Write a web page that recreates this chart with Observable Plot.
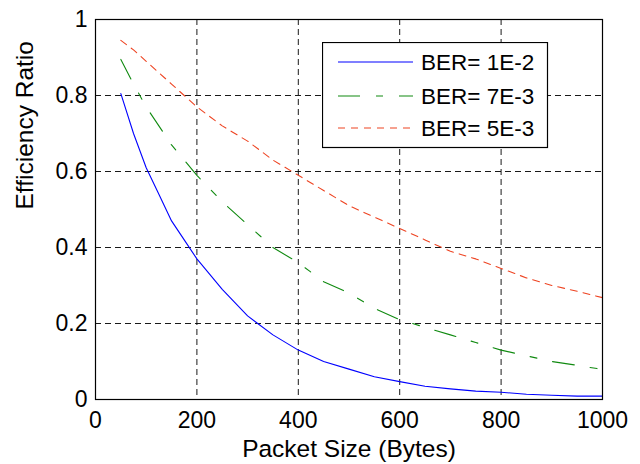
<!DOCTYPE html>
<html>
<head>
<meta charset="utf-8">
<script src="https://cdn.jsdelivr.net/npm/d3@7"></script>
<script src="https://cdn.jsdelivr.net/npm/@observablehq/plot@0.6"></script>
<style>
  html, body { margin: 0; padding: 0; background: #fff; }
  #wrap { position: relative; width: 640px; height: 464px; font-family: "Liberation Sans", Arial, sans-serif; }
  #legend { position: absolute; left: 322px; top: 42px; }
</style>
</head>
<body>
<div id="wrap"></div>
<script>
const sizes = [50,75,100,125,150,175,200,250,300,350,400,450,500,550,600,650,700,750,800,850,900,950,1000];
const ber1e2 = [0.805,0.70,0.61,0.54,0.47,0.42,0.37,0.29,0.22,0.17,0.13,0.10,0.08,0.06,0.047,0.035,0.028,0.022,0.019,0.014,0.011,0.009,0.009];
const ber7e3 = [0.895,0.83,0.77,0.72,0.67,0.63,0.59,0.52,0.46,0.40,0.36,0.31,0.28,0.24,0.21,0.19,0.17,0.15,0.13,0.115,0.10,0.09,0.079];
const ber5e3 = [0.945,0.92,0.89,0.86,0.83,0.80,0.77,0.72,0.68,0.63,0.59,0.55,0.51,0.48,0.45,0.42,0.39,0.37,0.345,0.32,0.30,0.285,0.268];
const seriesNames = ["BER= 1E-2", "BER= 7E-3", "BER= 5E-3"];
const xTicks = [0,200,400,600,800,1000];
const yTicks = [0,0.2,0.4,0.6,0.8,1];
const xLabel = "Packet Size (Bytes)";
const yLabel = "Efficiency Ratio";

const colors = ["#0000ff", "#108a10", "#ee4422"];
const dashes = [null, "22,16,7,16", "7,6"];

const seriesValues = [ber1e2, ber7e3, ber5e3];
const series = seriesNames.map((name, i) => sizes.map((s, j) => ({size: s, eff: seriesValues[i][j], name})));

const tickFont = 23;
const labelFont = 24.5;
const legendFont = 22.5;
const yFmt = d => String(+d.toFixed(1));
const xFmt = d => String(d);

const lineMarks = series.map((data, i) => Plot.line(data, {
  x: "size", y: "eff", stroke: colors[i], strokeWidth: 1.1,
  strokeDasharray: dashes[i] || undefined
}));

const chart = Plot.plot({
  width: 640,
  height: 464,
  marginLeft: 95,
  marginRight: 38,
  marginTop: 19,
  marginBottom: 65,
  style: { fontFamily: "Liberation Sans, Arial, sans-serif", fontSize: tickFont + "px", color: "#000", background: "#fff" },
  x: { domain: [0, 1000] },
  y: { domain: [0, 1] },
  marks: [
    Plot.gridX(xTicks.slice(1, -1), { stroke: "#000", strokeOpacity: 0.9, strokeDasharray: "6,4", strokeWidth: 1 }),
    Plot.gridY(yTicks.slice(1, -1), { stroke: "#000", strokeOpacity: 0.9, strokeDasharray: "6,4", strokeWidth: 1 }),
    ...lineMarks,
    Plot.axisX(xTicks, { anchor: "bottom", tickSize: 0, tickPadding: 12, fontSize: tickFont, tickFormat: xFmt, label: null }),
    Plot.axisY(yTicks, { anchor: "left", tickSize: 0, tickPadding: 8, fontSize: tickFont, tickFormat: yFmt, label: null }),
    Plot.text([xLabel], { text: d => d, frameAnchor: "bottom", lineAnchor: "middle", dy: 50, fontSize: labelFont, fill: "#000" }),
    Plot.text([yLabel], { text: d => d, frameAnchor: "left", lineAnchor: "middle", dx: -70, rotate: -90, fontSize: labelFont, fill: "#000" }),
    Plot.frame({ stroke: "#000", strokeWidth: 1.2 })
  ]
});
const wrap = document.getElementById("wrap");
wrap.appendChild(chart);

// Legend overlay
const lg = d3.select(wrap).append("svg").attr("id", "legend")
  .attr("width", 227).attr("height", 107);
lg.append("rect").attr("x", 0.5).attr("y", 0.5).attr("width", 225).attr("height", 105)
  .attr("fill", "#fff").attr("stroke", "#000").attr("stroke-width", 1.2);
const rowsY = [20, 54, 86];
seriesNames.forEach((name, i) => {
  lg.append("line").attr("x1", 16).attr("x2", 91).attr("y1", rowsY[i]).attr("y2", rowsY[i])
    .attr("stroke", colors[i]).attr("stroke-width", 1.2)
    .attr("stroke-dasharray", dashes[i]);
  lg.append("text").attr("x", 99).attr("y", rowsY[i]).attr("dy", "0.36em")
    .attr("font-family", "Liberation Sans, Arial, sans-serif").attr("font-size", legendFont)
    .attr("fill", "#000").text(name);
});
</script>
</body>
</html>
